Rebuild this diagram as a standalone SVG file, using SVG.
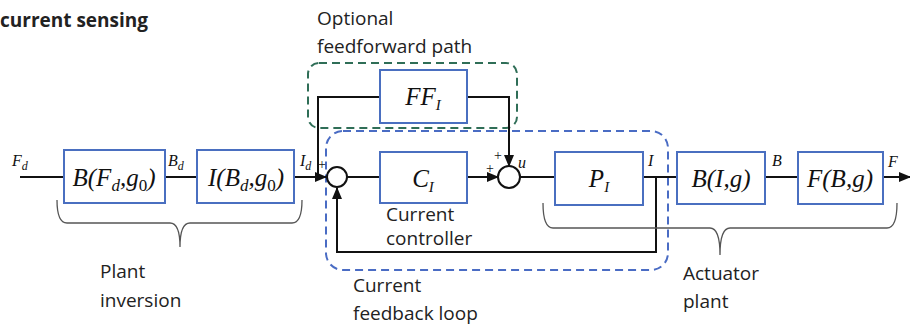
<svg xmlns="http://www.w3.org/2000/svg" width="910" height="327" viewBox="0 0 910 327">
<defs>
<marker id="arr" markerUnits="userSpaceOnUse" markerWidth="12" markerHeight="10" refX="11" refY="5" orient="auto">
<path d="M0,0 L12,5 L0,10 z" fill="#111"/>
</marker>
<style>
.box{fill:#fff;stroke:#4a6fc0;stroke-width:2}
.ln{fill:none;stroke:#111;stroke-width:2}
.sum{fill:#fff;stroke:#111;stroke-width:2}
.math{font-family:"Liberation Serif",serif;font-style:italic;fill:#111}
.bm{font-size:25px;text-anchor:middle}
.lb{font-size:16px}
.pl{font-family:"Liberation Serif",serif;font-size:14px;fill:#111}
.sans{font-family:"Open Sans","Liberation Sans",sans-serif;fill:#222;font-size:19px}
.brace{fill:none;stroke:#555;stroke-width:1.3}
</style>
</defs>
<rect width="910" height="327" fill="#fff"/>
<text x="0" y="27" class="sans" font-weight="bold" font-size="19">current sensing</text>

<g id="groups">
<rect x="308" y="63" width="209" height="65" rx="11" fill="none" stroke="#2f6e57" stroke-width="2" stroke-dasharray="8 5"/>
<rect x="326" y="131" width="342" height="139" rx="17" fill="none" stroke="#4a6cc4" stroke-width="2" stroke-dasharray="8 5"/>
</g>

<g id="connectors">
<path class="ln" d="M20,177 L64,177"/>
<path class="ln" d="M165,177 L197,177"/>
<path class="ln" d="M294,177 L326,177" marker-end="url(#arr)"/>
<path class="ln" d="M318,177 L318,97 L380,97"/>
<path class="ln" d="M467,97 L509,97 L509,166" marker-end="url(#arr)"/>
<path class="ln" d="M347,177 L380,177"/>
<path class="ln" d="M467,177 L498,177" marker-end="url(#arr)"/>
<path class="ln" d="M520,177 L555,177"/>
<path class="ln" d="M643,177 L677,177"/>
<path class="ln" d="M656,177 L656,252 L337,252 L337,188" marker-end="url(#arr)"/>
<path class="ln" d="M765,177 L798,177"/>
<path class="ln" d="M883,177 L910,177" marker-end="url(#arr)"/>
</g>

<g id="sum1"><circle class="sum" cx="337" cy="177" r="10"/></g>
<g id="sum2"><circle class="sum" cx="509" cy="177" r="11"/></g>

<g id="box-BFd">
<rect class="box" x="64" y="150" width="101" height="53"/>
<text class="math bm" x="114" y="186">B(F<tspan dy="5" font-size="17">d</tspan><tspan dy="-5">,g</tspan><tspan dy="5" font-size="17" font-style="normal">0</tspan><tspan dy="-5">)</tspan></text>
</g>
<g id="box-IBd">
<rect class="box" x="197" y="150" width="97" height="53"/>
<text class="math bm" x="246" y="186">I(B<tspan dy="5" font-size="17">d</tspan><tspan dy="-5">,g</tspan><tspan dy="5" font-size="17" font-style="normal">0</tspan><tspan dy="-5">)</tspan></text>
</g>
<g id="box-FF">
<rect class="box" x="380" y="70" width="87" height="53"/>
<text class="math bm" x="423" y="105">FF<tspan dy="5" font-size="15">I</tspan></text>
</g>
<g id="box-C">
<rect class="box" x="380" y="152" width="87" height="51"/>
<text class="math bm" x="423" y="187">C<tspan dy="5" font-size="15">I</tspan></text>
</g>
<g id="box-P">
<rect class="box" x="555" y="152" width="88" height="53"/>
<text class="math bm" x="599" y="187">P<tspan dy="5" font-size="15">I</tspan></text>
</g>
<g id="box-BIg">
<rect class="box" x="677" y="152" width="88" height="52"/>
<text class="math bm" x="721" y="187">B(I,g)</text>
</g>
<g id="box-FBg">
<rect class="box" x="798" y="152" width="85" height="52"/>
<text class="math bm" x="840" y="187">F(B,g)</text>
</g>

<g id="labels">
<text class="math lb" x="12" y="166">F<tspan dy="4" font-size="12">d</tspan></text>
<text class="math lb" x="168" y="166">B<tspan dy="4" font-size="12">d</tspan></text>
<text class="math lb" x="300" y="166">I<tspan dy="4" font-size="12">d</tspan></text>
<text class="math lb" x="518" y="168">u</text>
<text class="math lb" x="648" y="166">I</text>
<text class="math lb" x="772" y="166">B</text>
<text class="math lb" x="888" y="167">F</text>
<text class="pl" x="318" y="169">+</text>
<text class="pl" x="494" y="160">+</text>
<text class="pl" x="486" y="173">+</text>
</g>

<g id="braces">
<path class="brace" d="M57,200 Q57,223 67,223 L170,223 Q180,223 180,247 Q180,223 190,223 L292,223 Q302,223 302,200"/>
<path class="brace" d="M543,203 Q543,228 553,228 L710,228 Q720,228 720,255 Q720,228 730,228 L887,228 Q897,228 897,203"/>
</g>

<g id="captions">
<text class="sans" x="317" y="25">Optional</text>
<text class="sans" x="317" y="53">feedforward path</text>
<text class="sans" x="386" y="221" font-size="16.5">Current</text>
<text class="sans" x="386" y="245" font-size="16.5">controller</text>
<text class="sans" x="100" y="278">Plant</text>
<text class="sans" x="100" y="307">inversion</text>
<text class="sans" x="353" y="292">Current</text>
<text class="sans" x="353" y="320">feedback loop</text>
<text class="sans" x="683" y="280">Actuator</text>
<text class="sans" x="683" y="308">plant</text>
</g>
</svg>
